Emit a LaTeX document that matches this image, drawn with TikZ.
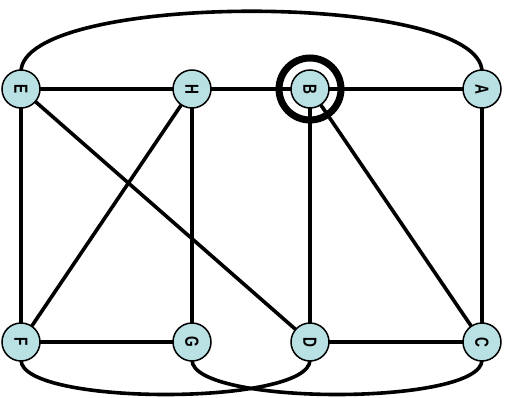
\documentclass[tikz,border=0pt]{standalone}
\usepackage{fontspec}
\setmainfont{Liberation Sans}
\definecolor{nodefill}{RGB}{185,224,227}
\newcommand{\vlab}[1]{\rotatebox{-90}{\scalebox{0.72}[1]{\fontsize{19}{19}\selectfont\bfseries #1}}}
\begin{document}
\begin{tikzpicture}[x=1pt,y=-1pt,
  vtx/.style={circle,draw=black,line width=1.5pt,fill=nodefill,minimum size=38pt,inner sep=0pt},
  edge/.style={line width=3.6pt},
  ring/.style={draw=black,line width=7pt}]
\useasboundingbox (0,0) rectangle (516,398);
% curves first
\coordinate (Et) at (21,72);
\coordinate (At) at (482,72);
\coordinate (Fb) at (21,360);
\coordinate (Db) at (310,360);
\coordinate (Gb) at (192,360);
\coordinate (Cb) at (482,360);
\draw[edge] (Et) .. controls (21,-9) and (482,-9) .. (At);
\draw[edge] (Fb) .. controls (21,406) and (310,406) .. (Db);
\draw[edge] (Gb) .. controls (192,406) and (482,406) .. (Cb);
\coordinate (pE) at (21,89);
\coordinate (pH) at (192,89);
\coordinate (pB) at (310,89);
\coordinate (pA) at (482,89);
\coordinate (pF) at (21,342);
\coordinate (pG) at (192,342);
\coordinate (pD) at (310,342);
\coordinate (pC) at (482,342);
\draw[edge] (pE) -- (pH) -- (pB) -- (pA);
\draw[edge] (pE) -- (pF);
\draw[edge] (pH) -- (pG);
\draw[edge] (pB) -- (pD);
\draw[edge] (pA) -- (pC);
\draw[edge] (pF) -- (pG);
\draw[edge] (pD) -- (pC);
\draw[edge] (pE) -- (pD);
\draw[edge] (pH) -- (pF);
\draw[edge] (pB) -- (pC);
\node[ring,circle,minimum size=62pt,inner sep=0pt] (ringB) at (pB) {};
\node[vtx] (E) at (pE) {\vlab{E}};
\node[vtx] (H) at (pH) {\vlab{H}};
\node[vtx] (B) at (pB) {\vlab{B}};
\node[vtx] (A) at (pA) {\vlab{A}};
\node[vtx] (F) at (pF) {\vlab{F}};
\node[vtx] (G) at (pG) {\vlab{G}};
\node[vtx] (D) at (pD) {\vlab{D}};
\node[vtx] (C) at (pC) {\vlab{C}};
\end{tikzpicture}
\end{document}
